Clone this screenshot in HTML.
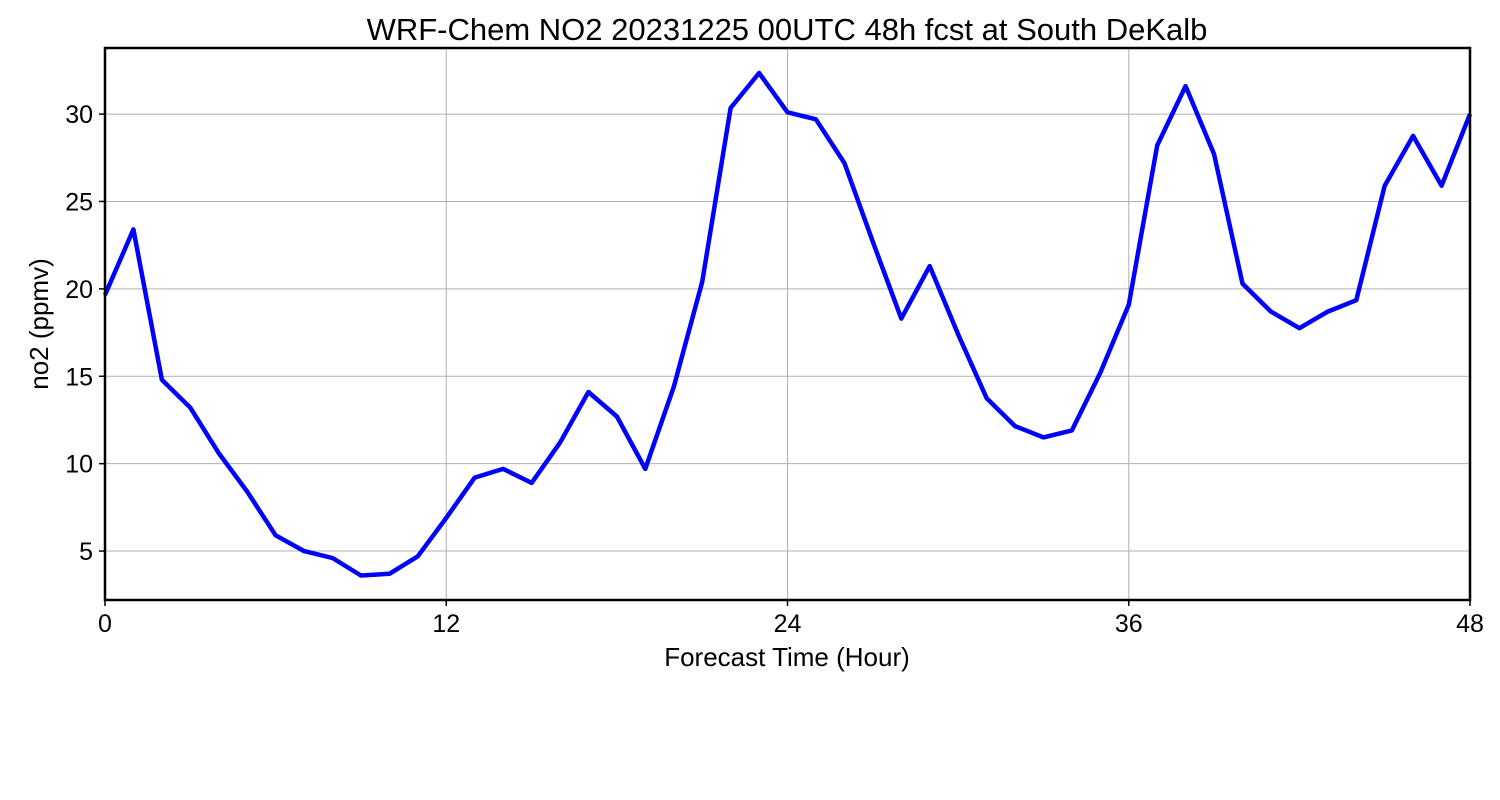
<!DOCTYPE html>
<html><head><meta charset="utf-8"><style>
body{margin:0;background:#fff;}
svg{display:block;font-family:"Liberation Sans","DejaVu Sans",sans-serif;}
</style></head><body>
<svg id="chart" width="1500" height="800">
<rect width="1500" height="800" fill="#fff"/>
<text x="787" y="40" font-size="31" text-anchor="middle">WRF-Chem NO2  20231225 00UTC 48h fcst at South DeKalb</text>
<g id="grid"></g>
<g id="axes"></g>
<text x="787" y="666" font-size="26" text-anchor="middle">Forecast Time (Hour)</text>
<text transform="translate(48,324) rotate(-90)" font-size="26" text-anchor="middle">no2  (ppmv)</text>
</svg>
<script>
const hours = [];
for (let i = 0; i <= 48; i++) hours.push(i);
const no2Values = [19.65,23.4,14.8,13.2,10.6,8.4,5.9,5.0,4.6,3.6,3.7,4.7,6.9,9.2,9.7,8.9,11.2,14.1,12.7,9.7,14.4,20.4,30.35,32.35,30.1,29.7,27.2,22.7,18.3,21.3,17.4,13.75,12.15,11.5,11.9,15.2,19.1,28.2,31.6,27.7,20.3,18.7,17.75,18.7,19.35,25.9,28.75,25.9,30.0];
const xTicks = [0,12,24,36,48];
const yTicks = [5,10,15,20,25,30];
const L=105,R=1470,T=48,B=600;
const xMin=0,xMax=48,yMin=2.2,yMax=33.78;
const sx=v=>L+(v-xMin)/(xMax-xMin)*(R-L);
const sy=v=>B-(v-yMin)/(yMax-yMin)*(B-T);
const NS="http://www.w3.org/2000/svg";
const svg=document.getElementById('chart');
const grid=document.getElementById('grid');
const axes=document.getElementById('axes');
function mk(tag,attrs,parent){const e=document.createElementNS(NS,tag);for(const k in attrs)e.setAttribute(k,attrs[k]);parent.appendChild(e);return e;}
xTicks.forEach(t=>{
  const g=mk('line',{x1:sx(t),x2:sx(t),y1:T,y2:B,stroke:'#b0b0b0','stroke-width':1},grid);
  
  
  const tk=mk('line',{x1:sx(t),x2:sx(t),y1:B,y2:B+6,stroke:'#000','stroke-width':1.5},axes);
  
  
  const lb=mk('text',{x:sx(t),y:B+32,'font-size':25,'text-anchor':'middle'},axes);
  lb.textContent=t;
  
  
});
yTicks.forEach(t=>{
  const g=mk('line',{x1:L,x2:R,y1:sy(t),y2:sy(t),stroke:'#b0b0b0','stroke-width':1},grid);
  
  
  const tk=mk('line',{x1:L-6,x2:L,y1:sy(t),y2:sy(t),stroke:'#000','stroke-width':1.5},axes);
  
  
  const lb=mk('text',{x:L-12,y:sy(t)+9,'font-size':25,'text-anchor':'end'},axes);
  lb.textContent=t;
  
  
});
const pts=hours.map((h,i)=>sx(h).toFixed(1)+','+sy(no2Values[i]).toFixed(1)).join(' ');
const line=mk('polyline',{points:pts,fill:'none',stroke:'#0000ff','stroke-width':4.5,'stroke-linejoin':'round'},svg);


const frame=mk('rect',{x:L,y:T,width:R-L,height:B-T,fill:'none',stroke:'#000','stroke-width':2.5},svg);


</script>
</body></html>
